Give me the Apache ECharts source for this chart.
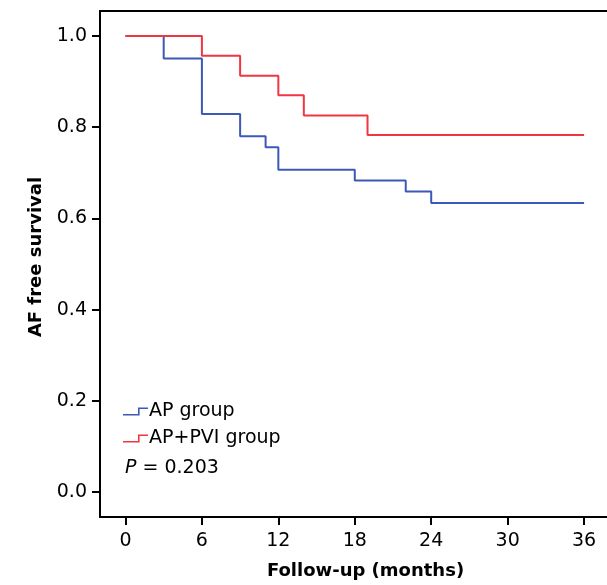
<!DOCTYPE html>
<html>
<head>
<meta charset="utf-8">
<script src="https://cdn.jsdelivr.net/npm/echarts@6/dist/echarts.min.js"></script>
<style>html,body{margin:0;padding:0;background:#fff;}#c{width:607px;height:585px;}</style>
</head>
<body>
<div id="c"></div>
<script>
// Data
var groupNames = ['AP group', 'AP+PVI group'];
var timesAP = [0, 3, 6, 9, 11, 12, 18, 22, 24, 36];
var survAP  = [1.0, 0.951, 0.829, 0.780, 0.756, 0.707, 0.683, 0.659, 0.634, 0.634];
var timesPVI = [0, 6, 9, 12, 14, 19, 36];
var survPVI  = [1.0, 0.957, 0.913, 0.870, 0.826, 0.783, 0.783];
var xTicks = [0, 6, 12, 18, 24, 30, 36];
var yTicks = [0, 0.2, 0.4, 0.6, 0.8, 1.0];
var pText = '0.203';

function pairs(t, s) { return t.map(function (v, i) { return [v, s[i]]; }); }

var FONT = '"DejaVu Sans", "Liberation Sans", Arial, sans-serif';
var blue = '#3d58b6';
var red = '#f23641';
var stepIcon = 'path://M0,6.5 L15,6.5 L15,0 L25,0 L25,1.6 L16.6,1.6 L16.6,8 L0,8 Z';
var txt = '#000';

var chart = echarts.init(document.getElementById('c'), null, { renderer: 'canvas' });
chart.setOption({
  animation: false,
  backgroundColor: '#fff',
  grid: { left: 100, top: 11, right: 0, height: 506, show: false },
  title: {
    left: 125, top: 459, padding: 0,
    text: '{i|P} = ' + pText,
    textStyle: {
      fontFamily: FONT, fontSize: 19, fontWeight: 'normal', color: txt,
      rich: { i: { fontFamily: FONT, fontSize: 19, fontStyle: 'italic', color: txt } }
    }
  },
  legend: {
    orient: 'vertical', left: 123, top: 402, itemGap: 8, padding: 0,
    itemWidth: 25, itemHeight: 8,
    data: [
      { name: groupNames[0], icon: stepIcon },
      { name: groupNames[1], icon: stepIcon }
    ],
    textStyle: { fontFamily: FONT, fontSize: 19, color: txt, padding: [0, 0, 0, -4] }
  },
  xAxis: [{
    type: 'value', min: -2, max: 37.8, position: 'bottom',
    name: 'Follow-up (months)', nameLocation: 'middle', nameGap: 45,
    nameTextStyle: { fontFamily: FONT, fontSize: 18, fontWeight: 'bold', color: txt, padding: [0, 0, 0, 24] },
    axisLine: { show: true, onZero: false, lineStyle: { color: '#000', width: 2 } },
    axisTick: { show: true, inside: false, length: 8, lineStyle: { color: '#000', width: 2 }, customValues: xTicks },
    axisLabel: { customValues: xTicks, fontFamily: FONT, fontSize: 19, color: txt, margin: 15 },
    splitLine: { show: false }
  }, {
    type: 'value', min: -2, max: 37.8, position: 'top',
    axisLine: { show: true, onZero: false, lineStyle: { color: '#000', width: 2 } },
    axisTick: { show: false }, axisLabel: { show: false }, splitLine: { show: false }
  }],
  yAxis: {
    type: 'value', min: -0.055, max: 1.055,
    name: 'AF free survival', nameLocation: 'middle', nameGap: 55,
    nameTextStyle: { fontFamily: FONT, fontSize: 18, fontWeight: 'bold', color: txt, padding: [0, 0, 0, 14] },
    axisLine: { show: true, onZero: false, lineStyle: { color: '#000', width: 2 } },
    axisTick: { show: true, inside: false, length: 8, lineStyle: { color: '#000', width: 2 }, customValues: yTicks },
    axisLabel: {
      customValues: yTicks, fontFamily: FONT, fontSize: 19, color: txt, margin: 13,
      formatter: function (v) { return v.toFixed(1); }
    },
    splitLine: { show: false }
  },
  series: [
    {
      name: groupNames[0], type: 'line', step: 'end', showSymbol: false, symbol: 'none',
      data: pairs(timesAP, survAP), color: blue,
      lineStyle: { color: blue, width: 2 }
    },
    {
      name: groupNames[1], type: 'line', step: 'end', showSymbol: false, symbol: 'none',
      data: pairs(timesPVI, survPVI), color: red,
      lineStyle: { color: red, width: 2 }
    }
  ]
});
</script>
</body>
</html>
